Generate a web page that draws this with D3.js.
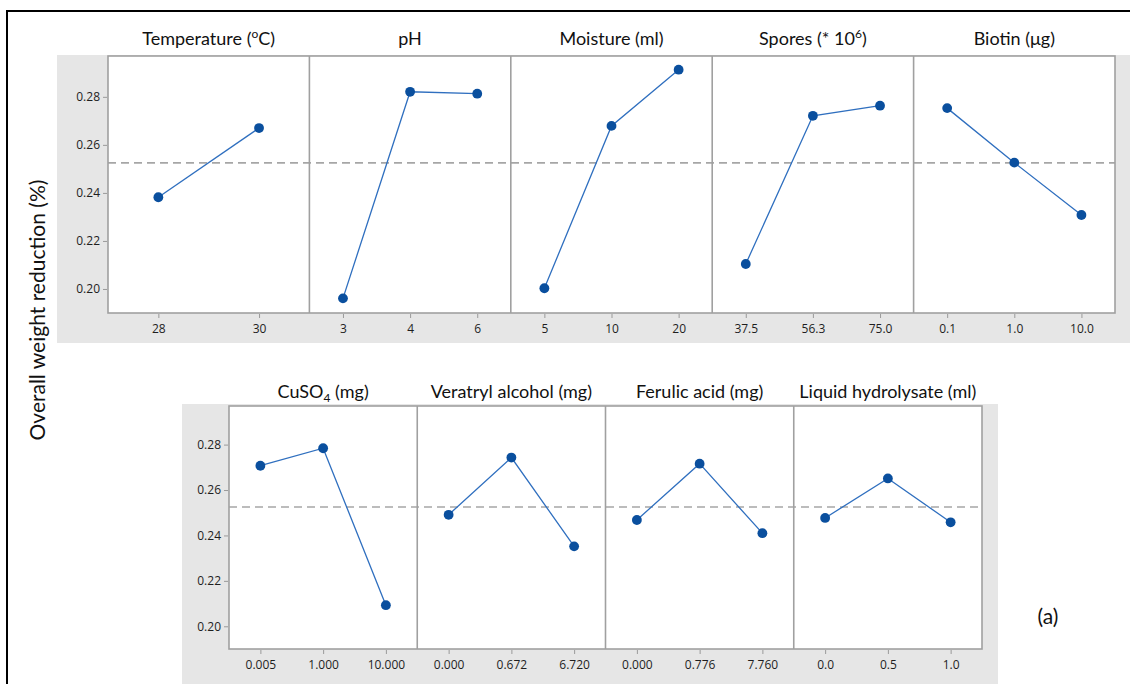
<!DOCTYPE html>
<html lang="en">
<head>
<meta charset="UTF-8">
<title>Main effects plot</title>
<script src="https://d3js.org/d3.v7.min.js"></script>
<style>
  body { margin: 0; background: #fff; }
  svg text { fill: #222; }
  .tick text { font: 12px "Open Sans", sans-serif; fill: #1e1e1e; }
  .tick line { stroke: #9a9a9a; }
  .domain { display: none; }
  .title { font: 18px Lato, sans-serif; fill: #111; }
</style>
</head>
<body>
<div id="chart"></div>
<script>
// values
var yTicks = [0.20, 0.22, 0.24, 0.26, 0.28];
var yDomain = [0.19, 0.297];
var grandMean = 0.2525;

var topFactors = ["Temperature (^{o}C)", "pH", "Moisture (ml)", "Spores (* 10^{6})", "Biotin (μg)"];
var topLevels = [["28", "30"], ["3", "4", "6"], ["5", "10", "20"], ["37.5", "56.3", "75.0"], ["0.1", "1.0", "10.0"]];
var topMeans = [
  [0.2382, 0.2670],
  [0.1961, 0.2821, 0.2813],
  [0.2003, 0.2679, 0.2913],
  [0.2104, 0.2721, 0.2763],
  [0.2753, 0.2526, 0.2308]
];

var bottomFactors = ["CuSO_{4} (mg)", "Veratryl alcohol (mg)", "Ferulic acid (mg)", "Liquid hydrolysate (ml)"];
var bottomLevels = [["0.005", "1.000", "10.000"], ["0.000", "0.672", "6.720"], ["0.000", "0.776", "7.760"], ["0.0", "0.5", "1.0"]];
var bottomMeans = [
  [0.2707, 0.2784, 0.2093],
  [0.2491, 0.2743, 0.2352],
  [0.2468, 0.2716, 0.2410],
  [0.2477, 0.2651, 0.2458]
];

var W = 1130, H = 684;
var svg = d3.select("#chart").append("svg").attr("width", W).attr("height", H);

// outer frame (only left and top edges are inside the picture)
svg.append("path")
  .attr("d", "M7,690 L7,11 L1135,11")
  .attr("fill", "none").attr("stroke", "#000").attr("stroke-width", 2);

svg.append("text")
  .attr("transform", "translate(45,310) rotate(-90)")
  .attr("text-anchor", "middle")
  .style("font", "21px Lato, sans-serif")
  .style("fill", "#111")
  .text("Overall weight reduction (%)");

svg.append("text")
  .attr("x", 1048).attr("y", 624)
  .attr("text-anchor", "middle")
  .style("font", "21px Lato, sans-serif")
  .style("fill", "#111")
  .text("(a)");

var rows = [
  {factors: topFactors, levels: topLevels, means: topMeans,
   left: 108, right: 1115, top: 56, bottom: 313, bg: [57, 55, 1130, 343], titleY: 45},
  {factors: bottomFactors, levels: bottomLevels, means: bottomMeans,
   left: 229, right: 982, top: 406, bottom: 649, bg: [182, 404, 998, 684], titleY: 398}
];

rows.forEach(drawRow);

function addTitle(sel, str) {
  // "^{..}" = superscript, "_{..}" = subscript
  var parts = str.split(/([\^_]\{[^}]*\})/);
  var back = 0;
  parts.forEach(function(p) {
    if (!p) return;
    if (p[0] == "^" || p[0] == "_") {
      var shift = p[0] == "^" ? -7 : 4;
      sel.append("tspan").attr("dy", back + shift).style("font-size", "12px").text(p.slice(2, -1));
      back = -shift;
    } else {
      sel.append("tspan").attr("dy", back).text(p);
      back = 0;
    }
  });
}

function drawRow(r) {
  var g = svg.append("g");
  g.append("rect")
    .attr("x", r.bg[0]).attr("y", r.bg[1])
    .attr("width", r.bg[2] - r.bg[0]).attr("height", r.bg[3] - r.bg[1])
    .attr("fill", "#e6e6e6");

  var y = d3.scaleLinear().domain(yDomain).range([r.bottom, r.top]);
  var panel = d3.scaleBand().domain(d3.range(r.factors.length)).range([r.left, r.right]);
  var bw = panel.bandwidth();

  g.append("rect")
    .attr("x", r.left).attr("y", r.top)
    .attr("width", r.right - r.left).attr("height", r.bottom - r.top)
    .attr("fill", "#fff");

  g.append("g")
    .attr("transform", "translate(" + (r.left - 1) + ",0)")
    .call(d3.axisLeft(y).tickValues(yTicks).tickFormat(d3.format(".2f")).tickSize(4).tickPadding(3));

  // grand mean
  g.append("line")
    .attr("x1", r.left).attr("x2", r.right)
    .attr("y1", y(grandMean)).attr("y2", y(grandMean))
    .attr("stroke", "#a6a6a6").attr("stroke-width", 1.6)
    .attr("stroke-dasharray", "8,5");

  r.factors.forEach(function(f, i) {
    var x0 = panel(i);
    var x = d3.scalePoint().domain(r.levels[i]).range([0, bw]).padding(0.5);
    var pg = g.append("g").attr("transform", "translate(" + x0 + ",0)");

    pg.append("g")
      .attr("transform", "translate(0," + (r.bottom + 1) + ")")
      .call(d3.axisBottom(x).tickSize(4).tickPadding(6));

    var pts = r.levels[i].map(function(l, j) { return [x(l), y(r.means[i][j])]; });
    pg.append("path")
      .attr("d", d3.line()(pts))
      .attr("fill", "none").attr("stroke", "#2f6fbf").attr("stroke-width", 1.3);
    pg.selectAll("circle").data(pts).enter().append("circle")
      .attr("cx", function(d) { return d[0]; })
      .attr("cy", function(d) { return d[1]; })
      .attr("r", 4.9)
      .attr("fill", "#0a4f9e");

    var t = g.append("text").attr("class", "title")
      .attr("x", x0 + bw / 2).attr("y", r.titleY)
      .attr("text-anchor", "middle");
    addTitle(t, f);
  });

  // frame and panel separators
  g.append("rect")
    .attr("x", r.left).attr("y", r.top)
    .attr("width", r.right - r.left).attr("height", r.bottom - r.top)
    .attr("fill", "none").attr("stroke", "#a0a0a0").attr("stroke-width", 1.6);
  g.selectAll(".sep").data(d3.range(1, r.factors.length)).enter().append("line")
    .attr("x1", function(d) { return panel(d); }).attr("x2", function(d) { return panel(d); })
    .attr("y1", r.top).attr("y2", r.bottom)
    .attr("stroke", "#a0a0a0").attr("stroke-width", 1.6);
}
</script>
</body>
</html>
